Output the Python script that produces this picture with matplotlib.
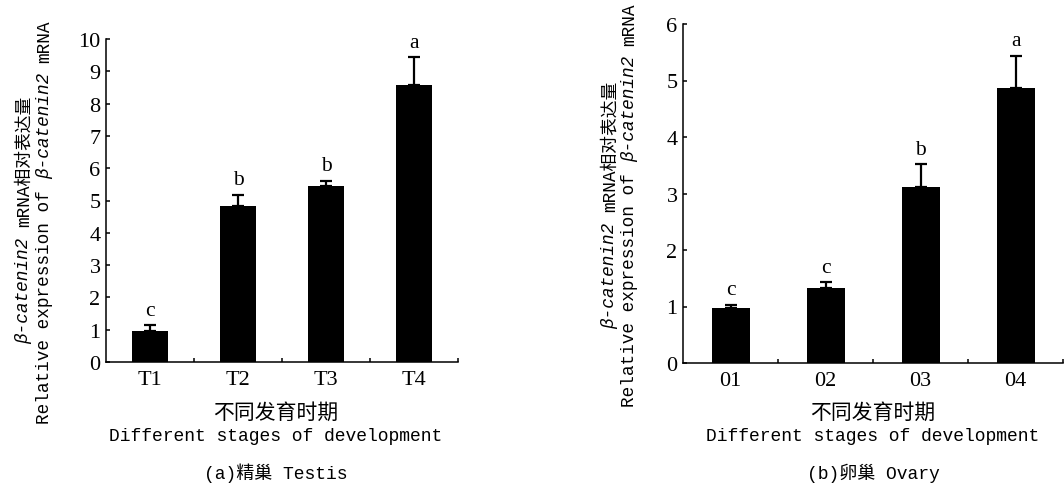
#!/usr/bin/env python
# coding: utf-8
"""
Relative expression of beta-catenin2 mRNA in testis and ovary stages.
"""
import numpy as np
import matplotlib
matplotlib.use('Agg')
from matplotlib import pyplot as plt

# data
testis_stages = ['T1', 'T2', 'T3', 'T4']
testis_mean = [0.96, 4.82, 5.46, 8.58]
testis_err = [0.18, 0.35, 0.15, 0.86]
testis_letters = ['c', 'b', 'b', 'a']

ovary_stages = ['01', '02', '03', '04']
ovary_mean = [0.98, 1.33, 3.12, 4.86]
ovary_err = [0.05, 0.10, 0.40, 0.58]
ovary_letters = ['c', 'c', 'b', 'a']

MONO = ['Liberation Mono', 'Noto Sans CJK SC']
SERIF = 'Liberation Serif'
# (text, italic) pieces of the two y-label lines
YLAB1 = [('β-catenin2', True), (' mRNA相对表达量', False)]
YLAB2 = [('Relative expression of ', False), ('β-catenin2', True), (' mRNA', False)]


def draw_panel(ax, stages, mean, err, letters, ymax, ystep):
    x = np.arange(len(stages))
    ax.bar(x, mean, width=0.4, color='black', zorder=2)
    ax.errorbar(x, mean, yerr=[np.zeros(len(err)), err], fmt='none',
                ecolor='black', elinewidth=1.6, capsize=4.5, capthick=1.6, zorder=1)
    for xi, m, e, lab in zip(x, mean, err, letters):
        ax.annotate(lab, (xi, m + e), xytext=(0, 4), textcoords='offset points',
                    ha='center', va='bottom', fontsize=15.5, family=SERIF)
    ax.set_xlim(-0.5, len(stages) - 0.5)
    ax.set_ylim(0, ymax)
    ax.set_yticks(np.arange(0, ymax + 0.1, ystep))
    ax.set_xticks(x)
    ax.set_xticklabels(stages)
    ax.set_xticks(np.arange(0.5, len(stages)), minor=True)
    ax.tick_params(axis='x', which='major', length=0, pad=6)
    ax.tick_params(axis='x', which='minor', direction='in', length=3, width=1.1)
    ax.tick_params(axis='y', direction='in', length=3, width=1.1, pad=4)
    for t in ax.get_xticklabels() + ax.get_yticklabels():
        t.set_fontfamily(SERIF)
        t.set_fontsize(16)
    for s in ['top', 'right']:
        ax.spines[s].set_visible(False)
    for s in ['left', 'bottom']:
        ax.spines[s].set_linewidth(1.1)


def vertical_label(fig, xpx, ycpx, pieces, size=12.8):
    """ Write rotated text made of pieces, some italic, centred at ycpx. """
    renderer = fig.canvas.get_renderer()
    texts, lengths = [], []
    for s, it in pieces:
        # spaces counted separately, mono advance is 0.6 em
        lead = len(s) - len(s.lstrip(' '))
        trail = len(s) - len(s.rstrip(' '))
        t = fig.text(0, 0, s.strip(' '), rotation=90, ha='center', va='bottom',
                     fontsize=size, family=MONO, style='italic' if it else 'normal')
        h = t.get_window_extent(renderer).height
        sp = 0.6 * size * fig.dpi / 72.
        texts.append((t, lead * sp))
        lengths.append(lead * sp + h + trail * sp)
    total = sum(lengths)
    y = ycpx + total / 2.  # bottom of the text in pixels from top
    for (t, lead), L in zip(texts, lengths):
        y0 = y - lead
        t.set_position((xpx / W, 1 - y0 / H))
        y -= L


fig = plt.figure(figsize=(10.64, 4.89), dpi=100)
W, H = 1064., 489.

ax1 = fig.add_axes([106 / W, 1 - 363 / H, 352 / W, 323 / H])
draw_panel(ax1, testis_stages, testis_mean, testis_err, testis_letters, 10, 1)
ax2 = fig.add_axes([683 / W, 1 - 364 / H, 380 / W, 339 / H])
draw_panel(ax2, ovary_stages, ovary_mean, ovary_err, ovary_letters, 6, 1)

# y labels (two lines, centred)
vertical_label(fig, 24, 220, YLAB1)
vertical_label(fig, 45, 222, YLAB2)
vertical_label(fig, 610, 205, YLAB1)
vertical_label(fig, 630, 205, YLAB2)

# x labels and captions
for xc, cap in [(276, '(a)精巢 Testis'), (873, '(b)卵巢 Ovary')]:
    fig.text(xc / W, 1 - 413 / H, '不同发育时期', ha='center', va='center',
             fontsize=15, family=MONO)
    fig.text(xc / W, 1 - 437 / H, 'Different stages of development', ha='center',
             va='center', fontsize=13, family=MONO)
    fig.text(xc / W, 1 - 473 / H, cap, ha='center', va='center',
             fontsize=13, family=MONO)

fig.savefig('out.png', dpi=100)
